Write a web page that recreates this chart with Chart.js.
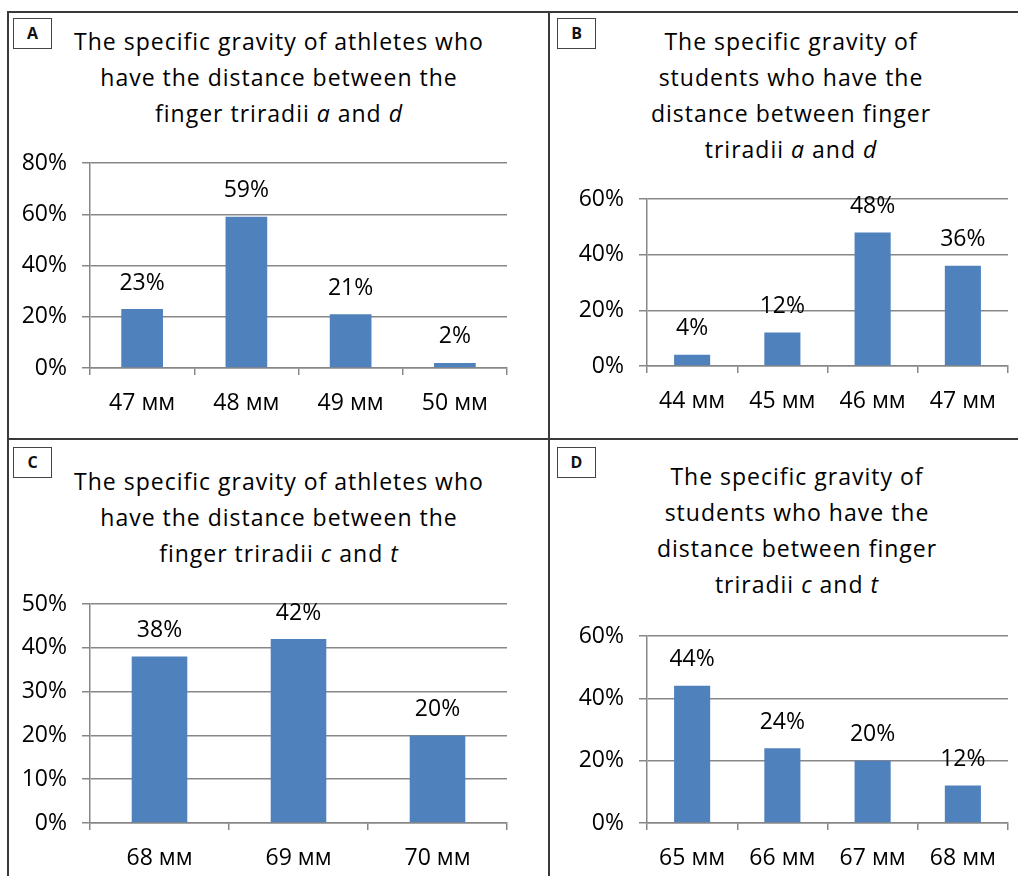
<!DOCTYPE html>
<html>
<head>
<meta charset="utf-8">
<script src="https://cdn.jsdelivr.net/npm/chart.js@4/dist/chart.umd.min.js"></script>
<style>
  body { margin: 0; background: #fff; }
  #page { position: relative; width: 1018px; height: 876px; overflow: hidden; background: #fff; font-family: "Open Sans", sans-serif; }
  .line { position: absolute; background: #3a3a3a; }
  .title { position: absolute; text-align: center; font-size: 23px; line-height: 36px; letter-spacing: 1px; color: #000; }
  .tag { position: absolute; width: 37px; height: 29px; border: 1.5px solid #444; font: bold 16px "Open Sans", sans-serif; text-align: center; line-height: 29px; color: #111; }
  canvas { position: absolute; }
</style>
</head>
<body>
<div id="page">
  <div class="line" style="left:7px;top:11px;width:1011px;height:2px"></div>
  <div class="line" style="left:7px;top:11px;width:2px;height:865px"></div>
  <div class="line" style="left:548px;top:11px;width:2px;height:865px"></div>
  <div class="line" style="left:7px;top:438px;width:1011px;height:2px"></div>

  <div class="tag" style="left:13px;top:18px">A</div>
  <div class="tag" style="left:557px;top:18px">B</div>
  <div class="tag" style="left:13px;top:447px">C</div>
  <div class="tag" style="left:557px;top:447px">D</div>

  <div class="title" style="left:19px;top:23px;width:520px">The specific gravity of athletes who<br>have the distance between the<br>finger triradii <i>a</i> and <i>d</i></div>
  <div class="title" style="left:571px;top:23px;width:440px">The specific gravity of<br>students who have the<br>distance between finger<br>triradii <i>a</i> and <i>d</i></div>
  <div class="title" style="left:19px;top:463px;width:520px">The specific gravity of athletes who<br>have the distance between the<br>finger triradii <i>c</i> and <i>t</i></div>
  <div class="title" style="left:577px;top:458px;width:440px">The specific gravity of<br>students who have the<br>distance between finger<br>triradii <i>c</i> and <i>t</i></div>

  <canvas id="chartA" width="530" height="304" style="left:10px;top:131px"></canvas>
  <canvas id="chartB" width="460" height="268" style="left:555px;top:167px"></canvas>
  <canvas id="chartC" width="530" height="304" style="left:10px;top:572px"></canvas>
  <canvas id="chartD" width="460" height="272" style="left:555px;top:604px"></canvas>
</div>
<script>
// A: athletes, distance a-d
var labelsA = ["47 мм", "48 мм", "49 мм", "50 мм"];
var valuesA = [23, 59, 21, 2];
// B: students, distance a-d
var labelsB = ["44 мм", "45 мм", "46 мм", "47 мм"];
var valuesB = [4, 12, 48, 36];
// C: athletes, distance c-t
var labelsC = ["68 мм", "69 мм", "70 мм"];
var valuesC = [38, 42, 20];
// D: students, distance c-t
var labelsD = ["65 мм", "66 мм", "67 мм", "68 мм"];
var valuesD = [44, 24, 20, 12];

var FONT = { family: '"Open Sans", sans-serif', size: 23 };
var GRID = "#878787";

// value labels above each bar
var valueLabels = {
  id: "valueLabels",
  afterDatasetsDraw: function(chart) {
    var ctx = chart.ctx;
    var data = chart.data.datasets[0].data;
    ctx.save();
    ctx.font = '23px "Open Sans", sans-serif';
    ctx.fillStyle = "#000";
    ctx.textAlign = "center";
    ctx.textBaseline = "middle";
    chart.getDatasetMeta(0).data.forEach(function(bar, i) {
      ctx.fillText(data[i] + "%", bar.x, bar.y - 26);
    });
    ctx.restore();
  }
};

function makeChart(id, box, area, labels, values, yMax, step) {
  var yW = 70, xH = 50;
  return new Chart(document.getElementById(id), {
    type: "bar",
    data: {
      labels: labels,
      datasets: [{
        data: values,
        backgroundColor: "#4F81BD",
        borderWidth: 0,
        barPercentage: 0.4,
        categoryPercentage: 1.0
      }]
    },
    options: {
      responsive: false,
      animation: false,
      layout: {
        padding: {
          left: area.L - box.x - yW,
          top: area.T - box.y,
          right: box.x + box.w - area.R,
          bottom: box.y + box.h - area.B - xH
        }
      },
      plugins: { legend: { display: false }, tooltip: { enabled: false }, title: { display: false } },
      scales: {
        x: {
          grid: { drawOnChartArea: false, drawTicks: true, tickLength: 7, color: GRID, lineWidth: 1.5, offset: true },
          border: { color: GRID, width: 1.5 },
          ticks: { font: FONT, color: "#000", padding: 15, maxRotation: 0 },
          afterFit: function(scale) { scale.height = xH; }
        },
        y: {
          min: 0,
          max: yMax,
          ticks: { stepSize: step, font: FONT, color: "#000", padding: 15, callback: function(v) { return v + "%"; } },
          grid: { color: GRID, lineWidth: 1.5, tickLength: 8 },
          border: { color: GRID, width: 1.5 },
          afterFit: function(scale) { scale.width = yW; }
        }
      }
    },
    plugins: [valueLabels]
  });
}

makeChart("chartA", { x: 10, y: 131, w: 530, h: 304 }, { L: 90, T: 163, R: 507, B: 368 }, labelsA, valuesA, 80, 20);
makeChart("chartB", { x: 555, y: 167, w: 460, h: 268 }, { L: 647, T: 199, R: 1008, B: 366 }, labelsB, valuesB, 60, 20);
makeChart("chartC", { x: 10, y: 572, w: 530, h: 304 }, { L: 90, T: 604, R: 507, B: 823 }, labelsC, valuesC, 50, 10);
makeChart("chartD", { x: 555, y: 604, w: 460, h: 272 }, { L: 647, T: 636, R: 1008, B: 823 }, labelsD, valuesD, 60, 20);
</script>
</body>
</html>
